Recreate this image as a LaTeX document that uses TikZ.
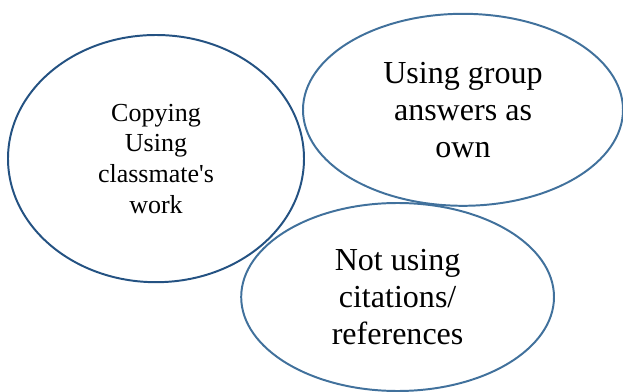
\documentclass[tikz,border=0pt]{standalone}
\usepackage{fontspec}
\setmainfont{Liberation Serif}
\usepackage{tikz}
\usetikzlibrary{shapes.geometric}
\usepackage{xcolor}
\definecolor{darkrim}{RGB}{36,82,130}
\definecolor{lightrim}{RGB}{65,113,156}

\begin{document}
\begin{tikzpicture}[every node/.style={ellipse,inner sep=0pt,align=center,
    line width=1.4pt}]
\useasboundingbox (0,0) rectangle (15.575,9.775);
% left
\node [draw=darkrim,minimum width=7.4cm,minimum height=6.18cm,
       font=\fontsize{18.5}{21.8}\selectfont]
      (copying) at (3.9,5.81) {Copying\\Using\\classmate\textquotesingle s\\work};
% top right
\node [draw=lightrim,minimum width=8cm,minimum height=4.8cm,
       font=\fontsize{22.8}{26.2}\selectfont]
      (group) at (11.575,7.03) {Using group\\answers as\\own};
% bottom
\node [draw=lightrim,minimum width=7.82cm,minimum height=4.7cm,
       font=\fontsize{22.8}{26.2}\selectfont]
      (cite) at (9.94,2.35) {Not using\\citations/\\references};
\end{tikzpicture}
\end{document}
